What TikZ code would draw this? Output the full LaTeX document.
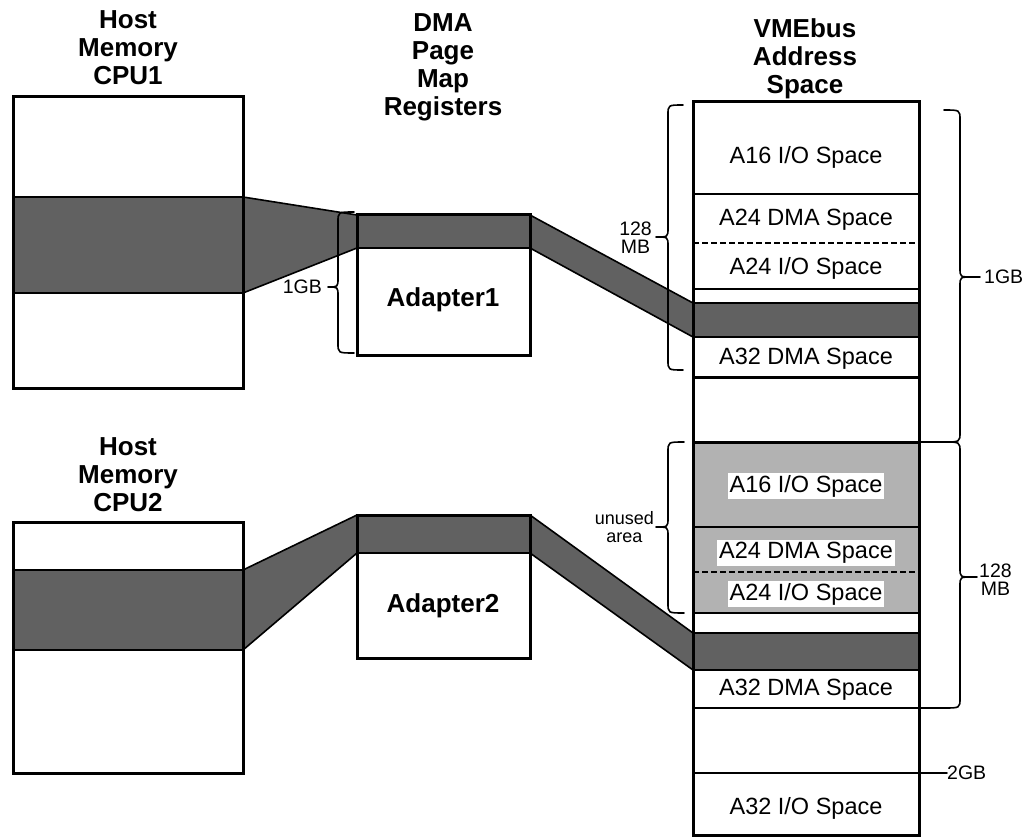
\documentclass[tikz,border=0pt]{standalone}
\usepackage{fontspec}
\setmainfont{Liberation Sans}
% left-pointing brace: x, ytop, ybot, ymid, tip length, hook length
\newcommand\BrL[6]{%
  \draw[brc] (#1+#6,#2) .. controls (#1,#2) .. (#1,#2+10) -- (#1,#4-9)
    .. controls (#1,#4) .. (#1-#5,#4) .. controls (#1,#4) .. (#1,#4+9)
    -- (#1,#3-10) .. controls (#1,#3) .. (#1+#6,#3);}
% right-pointing brace
\newcommand\BrR[6]{%
  \draw[brc] (#1-#6,#2) .. controls (#1,#2) .. (#1,#2+10) -- (#1,#4-9)
    .. controls (#1,#4) .. (#1+#5,#4) .. controls (#1,#4) .. (#1,#4+9)
    -- (#1,#3-10) .. controls (#1,#3) .. (#1-#6,#3);}
\begin{document}
\begin{tikzpicture}[x=1pt,y=-1pt,
  box/.style={draw, line width=3pt},
  sep/.style={line width=2pt},
  dsep/.style={line width=1.8pt, dash pattern=on 6pt off 3pt},
  edge/.style={line width=1.6pt},
  dark/.style={fill=black!62},
  light/.style={fill=black!30},
  brc/.style={line width=1.6pt, line cap=round, line join=round},
  hd/.style={font=\fontsize{26}{28}\selectfont\bfseries, align=center, inner sep=0pt, anchor=north},
  adp/.style={font=\fontsize{26}{30}\selectfont\bfseries, inner sep=0pt},
  lbl/.style={font=\fontsize{23.5}{26}\selectfont, inner sep=2pt},
  sm/.style={font=\fontsize{19.5}{18}\selectfont, align=center, inner sep=0pt},
]
\useasboundingbox (0,0) rectangle (1034,837);

% named corner points of the mapping bands
\coordinate (c1t) at (243,197); \coordinate (c1b) at (243,293);
\coordinate (a1lt) at (357,215); \coordinate (a1lb) at (357,248);
\coordinate (a1rt) at (530,215); \coordinate (a1rb) at (530,248);
\coordinate (v1t) at (693,303); \coordinate (v1b) at (693,337);
\coordinate (c2t) at (243,570); \coordinate (c2b) at (243,650);
\coordinate (a2lt) at (357,515); \coordinate (a2lb) at (357,553);
\coordinate (a2rt) at (530,515); \coordinate (a2rb) at (530,553);
\coordinate (v2t) at (693,633); \coordinate (v2b) at (693,670);

% fills
\fill[dark] (13,197) rectangle (243,293);
\fill[dark] (c1t) -- (a1lt) -- (a1lb) -- (c1b) -- cycle;
\fill[dark] (a1lt) rectangle (a1rb);
\fill[dark] (a1rt) -- (v1t) -- (v1b) -- (a1rb) -- cycle;
\fill[dark] (v1t) rectangle (919,337);
\fill[light] (693,442) rectangle (919,613);
\fill[dark] (13,570) rectangle (243,650);
\fill[dark] (c2t) -- (a2lt) -- (a2lb) -- (c2b) -- cycle;
\fill[dark] (a2lt) rectangle (a2rb);
\fill[dark] (a2rt) -- (v2t) -- (v2b) -- (a2rb) -- cycle;
\fill[dark] (v2t) rectangle (919,670);

% band edges
\draw[edge] (c1t) -- (a1lt) (c1b) -- (a1lb) (a1rt) -- (v1t) (a1rb) -- (v1b);
\draw[edge] (c2t) -- (a2lt) (c2b) -- (a2lb) (a2rt) -- (v2t) (a2rb) -- (v2b);

% host memory boxes
\draw[box] (13,97) rectangle (243,388);
\draw[sep] (13,197) -- (243,197) (13,293) -- (243,293);
\draw[box] (13,522) rectangle (243,773);
\draw[sep] (13,570) -- (243,570) (13,650) -- (243,650);

% adapters
\draw[box] (357,215) rectangle (530,355);
\draw[sep] (a1lb) -- (a1rb);
\draw[box] (357,515) rectangle (530,658);
\draw[sep] (a2lb) -- (a2rb);

% VMEbus address space
\draw[box] (693,102) rectangle (919,835.5);
\draw[sep] (693,194) -- (919,194);
\draw[dsep] (693,243) -- (919,243);
\draw[sep] (693,289) -- (919,289);
\draw[sep] (693,303) -- (919,303) (693,337) -- (919,337);
\draw[box] (693,377) -- (919,377);
\draw[box] (693,442) -- (919,442);
\draw[sep] (693,527) -- (919,527);
\draw[dsep] (693,572) -- (919,572);
\draw[sep] (693,613) -- (919,613);
\draw[sep] (693,633) -- (919,633) (693,670) -- (919,670);
\draw[sep] (693,708) -- (919,708);
\draw[sep] (693,773) -- (919,773);

% headings
\node[hd] (h1) at (128,10) {Host\\Memory\\CPU1};
\node[hd] (h2) at (443,13) {DMA\\Page\\Map\\Registers};
\node[hd] (h3) at (805,18) {VMEbus\\Address\\Space};
\node[hd] (h4) at (128,437) {Host\\Memory\\CPU2};

\node[adp] (ad1) at (443,300) {Adapter1};
\node[adp] (ad2) at (443,606) {Adapter2};

% region labels
\node[lbl] (l1) at (806,157) {A16 I/O Space};
\node[lbl] (l2) at (806,220) {A24 DMA Space};
\node[lbl] (l3) at (806,268) {A24 I/O Space};
\node[lbl] (l4) at (806,359) {A32 DMA Space};
\node[lbl, fill=white] (l5) at (806,486) {A16 I/O Space};
\node[lbl, fill=white] (l6) at (806,553) {A24 DMA Space};
\node[lbl, fill=white] (l7) at (806,594) {A24 I/O Space};
\node[lbl] (l8) at (806,690) {A32 DMA Space};
\node[lbl] (l9) at (806,808) {A32 I/O Space};

% braces
\BrL{338}{212}{353}{287}{10}{16}
\BrL{668}{105}{370}{237}{12}{15}
\BrL{668}{442}{613}{527}{12}{16}
\BrR{960}{110}{442}{277}{12}{16}
\BrR{960}{442}{708}{577}{12}{16}
\draw[brc] (921,442) -- (944,442) (921,708) -- (944,708);
\draw[brc] (972,277) -- (980,277) (972,577) -- (977,577);

% size labels
\node[sm, anchor=east] (g1) at (322,287) {1GB};
\node[sm, anchor=east] (m1) at (652,238) {128\\MB};
\node[sm, anchor=east, font=\fontsize{18}{18}\selectfont] (u1) at (654,527) {unused\\area};
\node[sm, anchor=west] (g2) at (984,277) {1GB};
\node[sm, anchor=west] (m2) at (979,580) {128\\MB};
\coordinate (k2) at (921,773);
\node[sm, anchor=west] (g3) at (947,773) {2GB};
\draw[brc] (k2) -- (g3.west);
\end{tikzpicture}
\end{document}
